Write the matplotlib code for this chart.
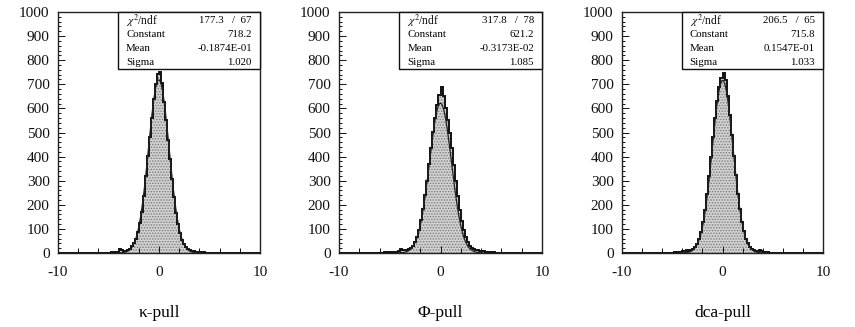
import numpy as np
import matplotlib
matplotlib.use("Agg")
import matplotlib.pyplot as plt
from matplotlib.ticker import MultipleLocator, FixedLocator

plt.rcParams["font.family"] = ["Liberation Serif", "DejaVu Serif"]
plt.rcParams["mathtext.fontset"] = "stix"
plt.rcParams["axes.unicode_minus"] = False
plt.rcParams["hatch.color"] = "#7a7a7a"
plt.rcParams["hatch.linewidth"] = 0.7

# Histogram layout: 100 bins of width 0.2 over [-10, 10]
x_min, x_max, n_bins = -10.0, 10.0, 100

titles = ["\u03ba-pull", "\u03a6-pull", "dca-pull"]

kappa_counts = [
    0, 0, 0, 0, 0, 0, 0, 0, 0, 0,
    0, 0, 0, 0, 0, 1, 0, 1, 0, 1,
    1, 0, 2, 1, 1, 2, 3, 2, 4, 5,
    16, 14, 9, 8, 11, 17, 27, 40, 60, 88,
    125, 172, 238, 318, 402, 480, 560, 640, 700, 742,
    750, 706, 628, 552, 470, 388, 305, 232, 168, 120,
    84, 56, 38, 25, 17, 12, 8, 7, 6, 5,
    4, 3, 3, 2, 1, 2, 1, 1, 0, 1,
    0, 1, 0, 0, 1, 0, 0, 0, 0, 0,
    0, 0, 0, 0, 0, 0, 0, 0, 0, 0,
]

phi_counts = [
    0, 0, 0, 0, 0, 0, 0, 0, 0, 0,
    0, 1, 0, 1, 1, 0, 1, 2, 1, 1,
    2, 1, 3, 2, 3, 4, 3, 5, 6, 8,
    15, 12, 13, 14, 17, 22, 30, 45, 66, 96,
    136, 182, 240, 300, 368, 436, 502, 560, 615, 655,
    690, 652, 600, 552, 498, 434, 366, 298, 236, 180,
    132, 95, 66, 44, 30, 22, 17, 14, 12, 10,
    9, 7, 6, 5, 4, 3, 3, 2, 2, 1,
    2, 1, 1, 0, 1, 1, 0, 0, 1, 0,
    0, 0, 0, 0, 0, 0, 0, 0, 0, 0,
]

dca_counts = [
    0, 0, 0, 0, 0, 0, 0, 0, 0, 0,
    0, 0, 1, 0, 0, 1, 0, 1, 1, 0,
    1, 1, 0, 2, 1, 2, 3, 2, 4, 5,
    8, 9, 11, 10, 12, 16, 25, 38, 58, 88,
    128, 180, 244, 318, 400, 482, 560, 632, 690, 728,
    748, 716, 650, 572, 488, 402, 322, 246, 182, 130,
    90, 60, 40, 26, 18, 14, 10, 9, 12, 8,
    6, 4, 3, 2, 2, 1, 1, 1, 0, 1,
    0, 1, 0, 0, 0, 0, 0, 0, 0, 0,
    0, 0, 0, 0, 0, 0, 0, 0, 0, 0,
]

# Gaussian fit results
chi2 = ["177.3", "317.8", "206.5"]
ndf = ["67", "78", "65"]
constant = [718.2, 621.2, 715.8]
mean = [-0.1874e-01, -0.3173e-02, 0.1547e-01]
sigma = [1.020, 1.085, 1.033]
constant_txt = ["718.2", "621.2", "715.8"]
mean_txt = ["-0.1874E-01", "-0.3173E-02", "0.1547E-01"]
sigma_txt = ["1.020", "1.085", "1.033"]

counts_all = [kappa_counts, phi_counts, dca_counts]

W, H = 855, 327
fig = plt.figure(figsize=(W / 100, H / 100), dpi=100)
fig.patch.set_facecolor("white")

# axes boxes in pixels: left, right, top, bottom
boxes = [(58, 260, 12, 253), (339, 542, 12, 253), (622, 823, 12, 253)]

edges = np.linspace(x_min, x_max, n_bins + 1)

for k, (l, r, t, b) in enumerate(boxes):
    ax = fig.add_axes([l / W, 1 - b / H, (r - l) / W, (b - t) / H])
    counts = np.array(counts_all[k], dtype=float)

    ax.stairs(counts, edges, fill=True, facecolor="#d2d2d2",
              edgecolor="#7a7a7a", hatch="......", linewidth=0, zorder=1)
    ax.stairs(counts, edges, color="#111111", linewidth=1.4, zorder=3)

    xf = np.linspace(-4.2, 4.2, 400)
    yf = constant[k] * np.exp(-0.5 * ((xf - mean[k]) / sigma[k]) ** 2)
    ax.plot(xf, yf, color="#222222", linewidth=0.9, zorder=4)

    ax.set_xlim(x_min, x_max)
    ax.set_ylim(0, 1000)

    ax.xaxis.set_major_locator(FixedLocator([-10, 0, 10]))
    ax.xaxis.set_minor_locator(MultipleLocator(2))
    ax.yaxis.set_major_locator(MultipleLocator(100))
    ax.yaxis.set_minor_locator(MultipleLocator(20))
    ax.tick_params(axis="both", which="both", direction="in",
                   top=False, right=False, width=0.7, colors="#111111")
    ax.tick_params(axis="y", which="major", length=5, pad=6, labelsize=11)
    ax.tick_params(axis="y", which="minor", length=2.5)
    ax.tick_params(axis="x", which="major", length=5, pad=9, labelsize=11)
    ax.tick_params(axis="x", which="minor", length=3.5)
    for s in ax.spines.values():
        s.set_linewidth(1.0)
        s.set_color("#222222")

    # statistics box
    bx0, by0 = 0.297, 0.763
    ax.add_patch(plt.Rectangle((bx0, by0), 1 - bx0, 1 - by0,
                               transform=ax.transAxes, fill=True,
                               facecolor="white", edgecolor="#111111",
                               linewidth=1.0, zorder=5, clip_on=False))
    rows_y = [0.965, 0.908, 0.850, 0.792]
    lx = 0.337
    rx = 0.96
    fs = 7.8
    ax.text(lx, rows_y[0], r"$\chi^2$/ndf", transform=ax.transAxes,
            fontsize=fs + 0.5, va="center", ha="left", zorder=6)
    ax.text(rx, rows_y[0], f"{chi2[k]}   /  {ndf[k]}", transform=ax.transAxes,
            fontsize=fs, va="center", ha="right", zorder=6)
    labels = ["Constant", "Mean", "Sigma"]
    vals = [constant_txt[k], mean_txt[k], sigma_txt[k]]
    for j in range(3):
        ax.text(lx, rows_y[j + 1], labels[j], transform=ax.transAxes,
                fontsize=fs, va="center", ha="left", zorder=6)
        ax.text(rx, rows_y[j + 1], vals[j], transform=ax.transAxes,
                fontsize=fs, va="center", ha="right", zorder=6)

    fig.text((l + r) / 2 / W, 1 - 313 / H, titles[k], ha="center",
             va="center", fontsize=12.5)

fig.savefig("out.png", dpi=100, facecolor="white")
